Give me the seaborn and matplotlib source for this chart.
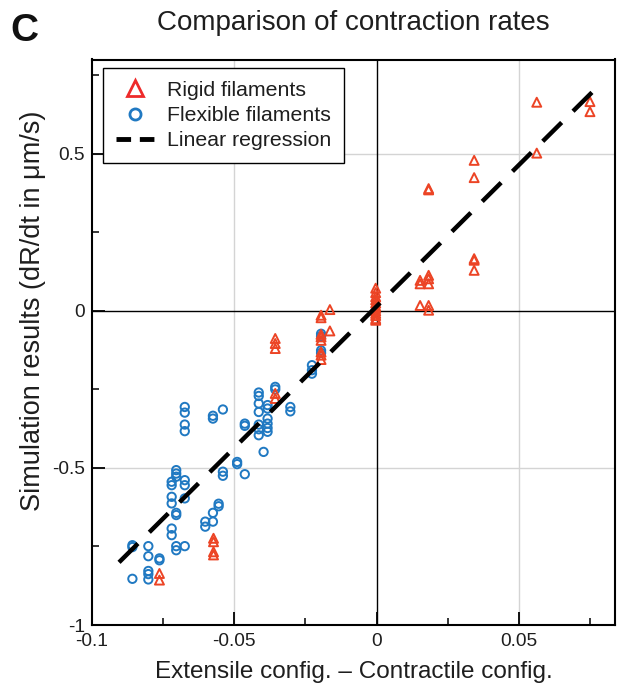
import numpy as np
import pandas as pd
import matplotlib
matplotlib.use("Agg")
import matplotlib.pyplot as plt
from matplotlib.lines import Line2D
from matplotlib.ticker import MultipleLocator, FixedLocator
import seaborn as sns

# ---------------- data ----------------
rigid_x = ([-0.0763] * 2 + [-0.0573] * 4 + [-0.0356] * 5 + [-0.0195] * 8 +
           [-0.0164] * 2 + [-0.0003] * 12 + [0.0153] * 3 + [0.0183] * 7 +
           [0.0343] * 5 + [0.0563] * 2 + [0.0750] * 2)
rigid_y = [-0.836, -0.857,
           -0.724, -0.735, -0.767, -0.777,
           -0.088, -0.104, -0.120, -0.263, -0.279,
           -0.014, -0.022, -0.075, -0.083, -0.094, -0.131, -0.141, -0.155,
           0.004, -0.064,
           0.072, 0.058, 0.045, 0.035, 0.025, 0.015, 0.008, 0.0, -0.008, -0.015, -0.025, -0.030,
           0.097, 0.086, 0.017,
           0.389, 0.385, 0.113, 0.102, 0.086, 0.017, 0.002,
           0.479, 0.424, 0.166, 0.161, 0.129,
           0.664, 0.502,
           0.666, 0.634]

flex_x = ([-0.0858] * 3 + [-0.0802] * 5 + [-0.0763] * 2 + [-0.0720] * 6 +
          [-0.0704] * 7 + [-0.0674] * 8 + [-0.0602] * 2 + [-0.0575] * 4 +
          [-0.0555] * 2 + [-0.0540] * 3 + [-0.0490] * 2 + [-0.0463] * 3 +
          [-0.0414] * 7 + [-0.0397] * 1 + [-0.0383] * 6 + [-0.0356] * 2 +
          [-0.0303] * 2 + [-0.0227] * 3 + [-0.0195] * 4)
flex_y = [-0.746, -0.752, -0.853,
          -0.749, -0.781, -0.828, -0.838, -0.855,
          -0.788, -0.794,
          -0.592, -0.613, -0.544, -0.555, -0.693, -0.714,
          -0.507, -0.518, -0.528, -0.643, -0.650, -0.749, -0.762,
          -0.306, -0.324, -0.362, -0.383, -0.597, -0.749, -0.539, -0.555,
          -0.671, -0.687,
          -0.334, -0.343, -0.643, -0.671,
          -0.614, -0.622,
          -0.314, -0.512, -0.525,
          -0.481, -0.488,
          -0.359, -0.366, -0.520,
          -0.260, -0.271, -0.295, -0.322, -0.362, -0.377, -0.396,
          -0.449,
          -0.300, -0.311, -0.343, -0.359, -0.373, -0.385,
          -0.242, -0.250,
          -0.306, -0.320,
          -0.173, -0.189, -0.200,
          -0.073, -0.081, -0.126, -0.134]

reg_slope = 9.0
reg_intercept = 0.014
reg_x_range = [-0.0905, 0.0795]

x_ticks = [-0.1, -0.05, 0, 0.05]
x_tick_labels = ["-0.1", "-0.05", "0", "0.05"]
y_ticks = [-1, -0.5, 0, 0.5]
y_tick_labels = ["-1", "-0.5", "0", "0.5"]

legend_labels = ["Rigid filaments", "Flexible filaments", "Linear regression"]

# ---------------- style ----------------
sns.set_theme(style="white")
plt.rcParams["font.family"] = ["Liberation Sans", "DejaVu Sans"]
plt.rcParams["axes.unicode_minus"] = False

RED = "#ec4425"
RED_LEG = "#ee2a2a"
BLUE = "#2079c2"
TXT = "#1e1e1e"

fig = plt.figure(figsize=(6.22, 6.89), dpi=100)
ax = fig.add_axes([92 / 622, 1 - 625 / 689, (615 - 92) / 622, (625 - 59.5) / 689])

ax.set_xlim(-0.1, 0.0838)
ax.set_ylim(-1.0, 0.8)

# grid + zero lines
for gx in [-0.05, 0.05]:
    ax.axvline(gx, color="#d4d4d4", lw=1.0, zorder=0)
for gy in [-0.5, 0.5]:
    ax.axhline(gy, color="#d4d4d4", lw=1.0, zorder=0)
ax.axvline(0, color="black", lw=1.0, zorder=0.5)
ax.axhline(0, color="black", lw=1.0, zorder=0.5)

df_r = pd.DataFrame({"x": rigid_x, "y": rigid_y})
df_f = pd.DataFrame({"x": flex_x, "y": flex_y})

sns.scatterplot(data=df_f, x="x", y="y", marker="o", s=36, ax=ax,
                color=BLUE, edgecolor=BLUE, linewidth=1.4, zorder=3, legend=False)
sns.scatterplot(data=df_r, x="x", y="y", marker="^", s=42, ax=ax,
                color=RED, edgecolor=RED, linewidth=1.4, zorder=4, legend=False)
for coll in ax.collections:
    coll.set_facecolor("none")

reg_x = np.array(reg_x_range)
reg_df = pd.DataFrame({"x": reg_x, "y": reg_slope * reg_x + reg_intercept})
sns.lineplot(data=reg_df, x="x", y="y", ax=ax, color="black", lw=3.2,
             dashes=False, zorder=5)
ax.lines[-1].set_dashes([6.0, 3.6])

# ticks
ax.xaxis.set_major_locator(FixedLocator(x_ticks))
ax.set_xticklabels(x_tick_labels)
ax.yaxis.set_major_locator(FixedLocator(y_ticks))
ax.set_yticklabels(y_tick_labels)
ax.xaxis.set_minor_locator(MultipleLocator(0.025))
ax.yaxis.set_minor_locator(MultipleLocator(0.25))
ax.tick_params(axis="both", which="major", direction="in", length=9.5, width=1.3,
               labelsize=13.8, colors="black", pad=5, bottom=True, left=True,
               top=False, right=False, labelcolor=TXT)
ax.tick_params(axis="both", which="minor", direction="in", length=5, width=1.3,
               bottom=True, left=True, top=False, right=False)
ax.tick_params(axis="x", which="major", pad=6)

for sp in ax.spines.values():
    sp.set_color("black")
    sp.set_linewidth(1.5)

ax.set_xlabel("Extensile config. \u2013 Contractile config.", fontsize=17.5,
              color=TXT, labelpad=8)
ax.set_ylabel("Simulation results (dR/dt in \u03bcm/s)", fontsize=19.5,
              color=TXT)
ax.yaxis.set_label_coords(-0.088, 0.555)

fig.text((92 + 615) / 2 / 622, 1 - 23 / 689, "Comparison of contraction rates",
         ha="center", va="center", fontsize=20, color=TXT)
fig.text(10 / 622, 1 - 31 / 689, "C", ha="left", va="center", fontsize=28,
         fontweight="bold", color="#111111")

handles = [
    Line2D([], [], marker="^", linestyle="none", markersize=11,
           markerfacecolor="none", markeredgecolor=RED_LEG, markeredgewidth=2.0),
    Line2D([], [], marker="o", linestyle="none", markersize=8,
           markerfacecolor="none", markeredgecolor=BLUE, markeredgewidth=2.0),
    Line2D([], [], color="black", lw=3.5, dashes=[3.0, 1.8]),
]
leg = ax.legend(handles, legend_labels, loc="upper left",
                bbox_to_anchor=(0.021, 0.985), borderaxespad=0,
                fontsize=15.3, frameon=True, fancybox=False, framealpha=1,
                handlelength=1.8, handletextpad=0.6, labelspacing=0.3,
                borderpad=0.6)
leg.get_frame().set_edgecolor("black")
leg.get_frame().set_linewidth(1.0)
for t in leg.get_texts():
    t.set_color(TXT)

fig.savefig("out.png", dpi=100)
